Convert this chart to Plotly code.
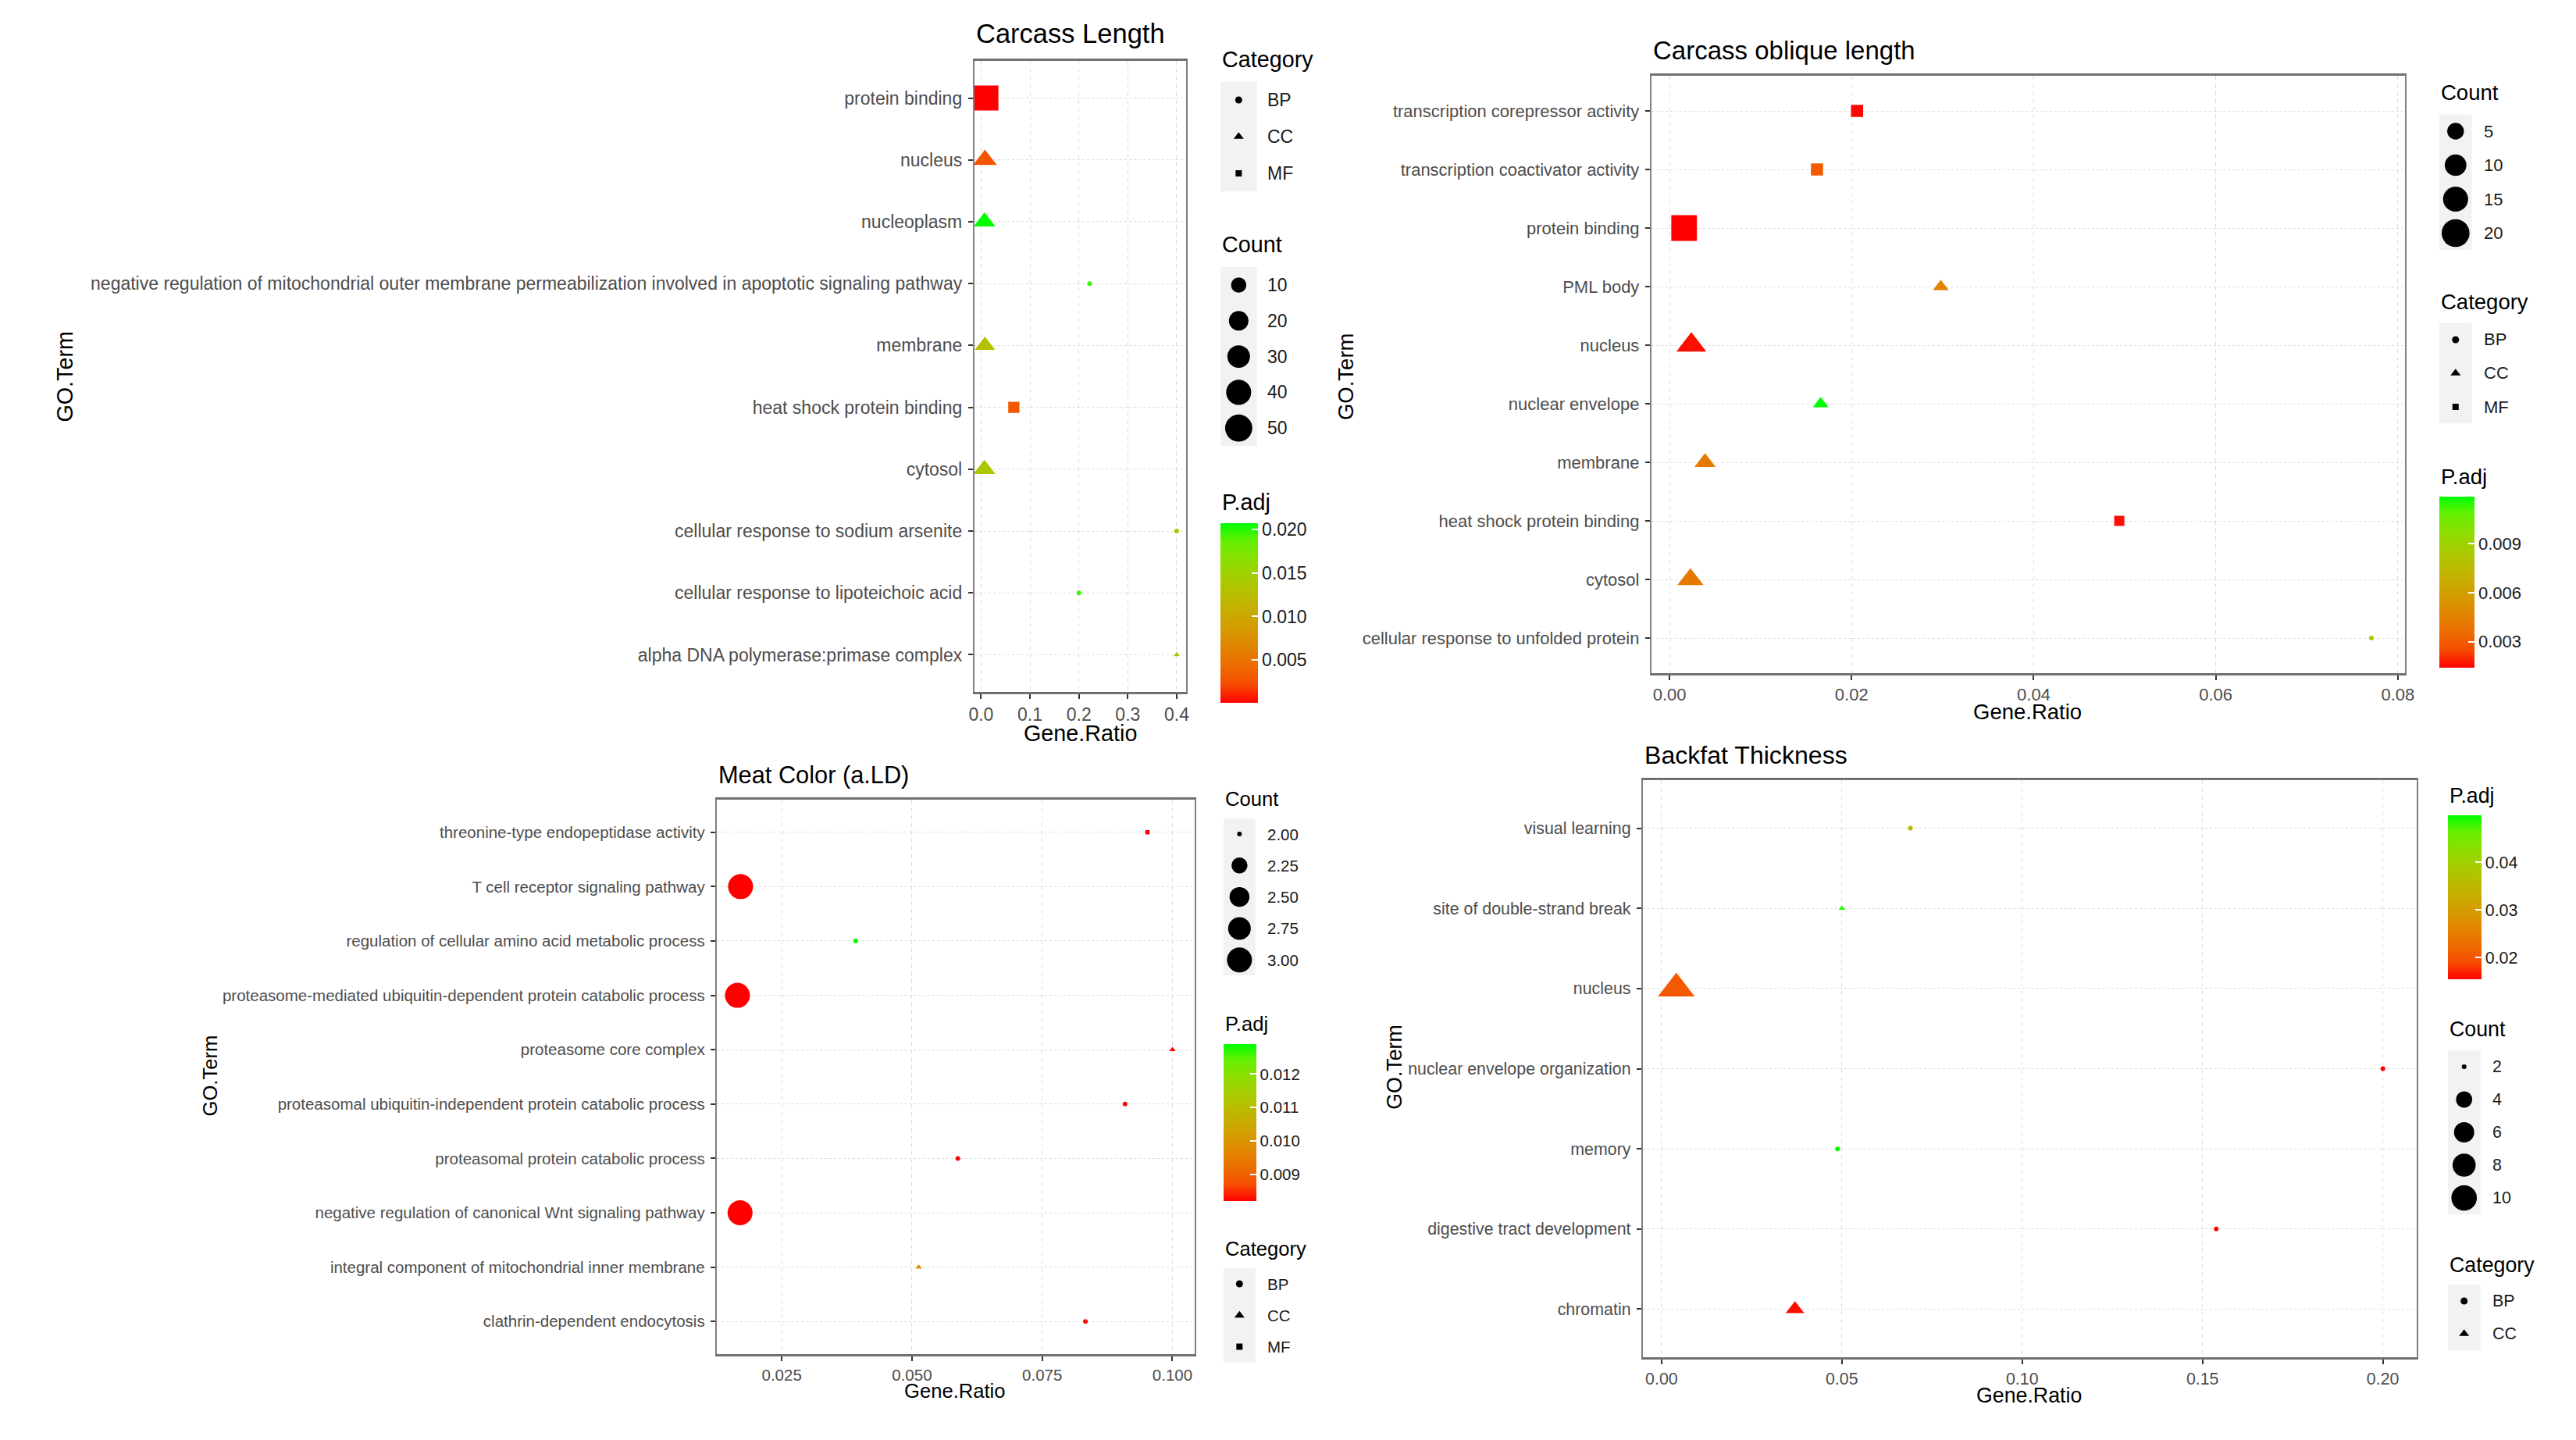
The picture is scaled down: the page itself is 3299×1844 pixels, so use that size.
import numpy as np
import plotly.graph_objects as go

# ---------------- data ----------------
# Carcass Length
p1_terms = ["protein binding", "nucleus", "nucleoplasm",
            "negative regulation of mitochondrial outer membrane permeabilization involved in apoptotic signaling pathway",
            "membrane", "heat shock protein binding", "cytosol",
            "cellular response to sodium arsenite", "cellular response to lipoteichoic acid",
            "alpha DNA polymerase:primase complex"]
p1_cat = ["MF", "CC", "CC", "BP", "CC", "MF", "CC", "BP", "BP", "CC"]
p1_ratio = [0.010, 0.008, 0.007, 0.222, 0.008, 0.067, 0.007, 0.400, 0.200, 0.400]
p1_count = [55, 14, 11, 2, 9, 6, 11, 2, 2, 2]
p1_padj = [0.0001, 0.0028, 0.0207, 0.0195, 0.0130, 0.0030, 0.0135, 0.0135, 0.0195, 0.0135]
p1_count_breaks = [10, 20, 30, 40, 50]
p1_padj_breaks = [0.005, 0.010, 0.015, 0.020]
p1_levels = ["BP", "CC", "MF"]

# Carcass oblique length
p2_terms = ["transcription corepressor activity", "transcription coactivator activity", "protein binding",
            "PML body", "nucleus", "nuclear envelope", "membrane", "heat shock protein binding",
            "cytosol", "cellular response to unfolded protein"]
p2_cat = ["MF", "MF", "MF", "CC", "CC", "CC", "CC", "MF", "CC", "BP"]
p2_ratio = [0.0206, 0.0162, 0.0016, 0.0298, 0.0024, 0.0166, 0.0039, 0.0494, 0.0023, 0.0771]
p2_count = [3, 3, 22, 2, 10, 2, 4, 2, 7, 1]
p2_padj = [0.0015, 0.0030, 0.0014, 0.0045, 0.0016, 0.0119, 0.0042, 0.0016, 0.0042, 0.0088]
p2_count_breaks = [5, 10, 15, 20]
p2_padj_breaks = [0.003, 0.006, 0.009]
p2_levels = ["BP", "CC", "MF"]

# Meat Color (a.LD)
p3_terms = ["threonine-type endopeptidase activity", "T cell receptor signaling pathway",
            "regulation of cellular amino acid metabolic process",
            "proteasome-mediated ubiquitin-dependent protein catabolic process",
            "proteasome core complex", "proteasomal ubiquitin-independent protein catabolic process",
            "proteasomal protein catabolic process", "negative regulation of canonical Wnt signaling pathway",
            "integral component of mitochondrial inner membrane", "clathrin-dependent endocytosis"]
p3_cat = ["MF", "BP", "BP", "BP", "CC", "BP", "BP", "BP", "CC", "BP"]
p3_ratio = [0.0952, 0.0171, 0.0392, 0.0165, 0.1000, 0.0909, 0.0588, 0.0170, 0.0513, 0.0833]
p3_count = [2, 3, 2, 3, 2, 2, 2, 3, 2, 2]
p3_padj = [0.0082, 0.0082, 0.0129, 0.0082, 0.0082, 0.0082, 0.0082, 0.0082, 0.0098, 0.0083]
p3_count_breaks = [2.00, 2.25, 2.50, 2.75, 3.00]
p3_padj_breaks = [0.009, 0.010, 0.011, 0.012]
p3_levels = ["BP", "CC", "MF"]

# Backfat Thickness
p4_terms = ["visual learning", "site of double-strand break", "nucleus", "nuclear envelope organization",
            "memory", "digestive tract development", "chromatin"]
p4_cat = ["BP", "CC", "CC", "BP", "BP", "BP", "CC"]
p4_ratio = [0.0690, 0.0500, 0.0041, 0.2000, 0.0488, 0.1538, 0.0370]
p4_count = [2, 2, 11, 2, 2, 2, 3]
p4_padj = [0.0360, 0.0490, 0.0205, 0.0155, 0.0498, 0.0156, 0.0160]
p4_count_breaks = [2, 4, 6, 8, 10]
p4_padj_breaks = [0.02, 0.03, 0.04]
p4_levels = ["BP", "CC"]

# ---------------- style / layout ----------------
W, H = 3299, 1844
OFF = 8  # default body margin of the html page
FONT = "Liberation Sans, Arial, Helvetica, sans-serif"
SYMBOL = {"BP": "circle", "CC": "triangle-up", "MF": "square"}
SHAPE_SCALE = {"BP": 1.0, "CC": 1.2, "MF": 0.886}
SIZE_POW = 0.42
DMIN = 6


def lab_to_hex(L, a, b):
    fy_ = (L + 16) / 116
    fx_ = fy_ + a / 500
    fz_ = fy_ - b / 200

    def finv(t):
        return t ** 3 if t ** 3 > 0.008856 else (t - 16 / 116) / 7.787
    X, Y, Z = 0.95047 * finv(fx_), finv(fy_), 1.08883 * finv(fz_)
    rgb = [3.2406 * X - 1.5372 * Y - 0.4986 * Z,
           -0.9689 * X + 1.8758 * Y + 0.0415 * Z,
           0.0557 * X - 0.2040 * Y + 1.0570 * Z]
    out = []
    for c in rgb:
        c = 12.92 * c if c <= 0.0031308 else 1.055 * c ** (1 / 2.4) - 0.055
        out.append(int(round(min(max(c, 0), 1) * 255)))
    return "#%02x%02x%02x" % tuple(out)


# red -> green gradient in Lab space
red_lab = np.array([53.24, 80.09, 67.20])
green_lab = np.array([87.73, -86.18, 83.18])
COLORSCALE = [[t, lab_to_hex(*(red_lab + (green_lab - red_lab) * t))] for t in np.linspace(0, 1, 11)]

panels = [
    dict(title="Carcass Length", terms=p1_terms, cat=p1_cat, ratio=p1_ratio, count=p1_count, padj=p1_padj,
         cbreaks=p1_count_breaks, pbreaks=p1_padj_breaks, levels=p1_levels, cfmt="{:g}", pfmt="{:.3f}",
         box=(1248, 78, 1521, 886), title_y=45, xt=(1384, 941), yt=(76, 482),
         xrange=[-0.0137, 0.4196], dtick=0.1, xfmt=".1f", fs=23, dmax=36,
         leg=dict(key_x=1565, key_w=47, label_x=1623, cb_w=48,
                  cat=(78, 128, 47), cnt=(315, 365, 45.8), pad=(645, 670, 900))),
    dict(title="Carcass oblique length", terms=p2_terms, cat=p2_cat, ratio=p2_ratio, count=p2_count, padj=p2_padj,
         cbreaks=p2_count_breaks, pbreaks=p2_padj_breaks, levels=p2_levels, cfmt="{:g}", pfmt="{:.3f}",
         box=(2120, 97, 3091, 862), title_y=67, xt=(2605, 913), yt=(1726, 482),
         xrange=[-0.0020, 0.0808], dtick=0.02, xfmt=".2f", fs=22, dmax=37,
         leg=dict(key_x=3135, key_w=42, label_x=3190, cb_w=45,
                  cnt=(121, 168, 43.5), cat=(388, 435, 43), pad=(612, 636, 855))),
    dict(title="Meat Color (a.LD)", terms=p3_terms, cat=p3_cat, ratio=p3_ratio, count=p3_count, padj=p3_padj,
         cbreaks=p3_count_breaks, pbreaks=p3_padj_breaks, levels=p3_levels, cfmt="{:.2f}", pfmt="{:.3f}",
         box=(916, 1024, 1532, 1734), title_y=995, xt=(1223, 1783), yt=(263, 1378),
         xrange=[0.0125, 0.1043], dtick=0.025, xfmt=".3f", fs=20.5, dmax=32,
         leg=dict(key_x=1569, key_w=41, label_x=1623, cb_w=42,
                  cnt=(1025, 1068, 40.3), pad=(1313, 1337, 1538), cat=(1601, 1644, 40.3))),
    dict(title="Backfat Thickness", terms=p4_terms, cat=p4_cat, ratio=p4_ratio, count=p4_count, padj=p4_padj,
         cbreaks=p4_count_breaks, pbreaks=p4_padj_breaks, levels=p4_levels, cfmt="{:g}", pfmt="{:.2f}",
         box=(2109, 999, 3106, 1738), title_y=969, xt=(2607, 1789), yt=(1789, 1366),
         xrange=[-0.0052, 0.2094], dtick=0.05, xfmt=".2f", fs=21.4, dmax=34,
         leg=dict(key_x=3146, key_w=42, label_x=3201, cb_w=43,
                  pad=(1021, 1044, 1254), cnt=(1320, 1366, 42), cat=(1622, 1666, 42))),
]

FW, FH = W - 2 * OFF, H - 2 * OFF


def fx(v):
    return (v - OFF) / FW


def fy(v):
    return 1 - (v - OFF) / FH


def sizer(cmin, cmax, dmax):
    # count -> marker diameter in px
    def f(c):
        frac = ((c - cmin) / (cmax - cmin)) ** SIZE_POW
        return DMIN + (dmax - DMIN) * frac
    return f


fig = go.Figure()
layout = dict(width=FW, height=FH, margin=dict(l=0, r=0, t=0, b=0),
              paper_bgcolor="white", plot_bgcolor="white", showlegend=False,
              font=dict(family=FONT, color="#1a1a1a"))
annotations, shapes = [], []
next_ax = 5

for i, p in enumerate(panels, start=1):
    sfx = "" if i == 1 else str(i)
    cax = "coloraxis" + sfx
    x0, y0, x1, y1 = p["box"]
    fs = p["fs"]
    n = len(p["terms"])
    size_of = sizer(min(p["count"]), max(p["count"]), p["dmax"])

    for lev in p["levels"]:
        idx = [k for k, c in enumerate(p["cat"]) if c == lev]
        if not idx:
            continue
        fig.add_trace(go.Scatter(
            x=[p["ratio"][k] for k in idx], y=[p["terms"][k] for k in idx],
            mode="markers", xaxis="x" + sfx, yaxis="y" + sfx, hoverinfo="skip",
            marker=dict(symbol=SYMBOL[lev], size=[size_of(p["count"][k]) * SHAPE_SCALE[lev] for k in idx],
                        color=[p["padj"][k] for k in idx], coloraxis=cax, line=dict(width=0), opacity=1)))

    axis_common = dict(mirror=True, showline=True,
                       ticks="outside", ticklen=6, tickwidth=1.5, tickcolor="#333333",
                       tickfont=dict(size=fs, color="#4D4D4D", family=FONT),
                       showgrid=True, gridcolor="#DCDCDC", gridwidth=1.3, zeroline=False)
    layout["xaxis" + sfx] = dict(domain=[fx(x0), fx(x1)], anchor="y" + sfx, range=p["xrange"],
                                 tick0=0, dtick=p["dtick"], tickformat=p["xfmt"], griddash="5px,5px",
                                 linecolor="#707070", linewidth=3, **axis_common)
    layout["yaxis" + sfx] = dict(domain=[fy(y1), fy(y0)], anchor="x" + sfx, type="category",
                                 categoryorder="array", categoryarray=p["terms"][::-1],
                                 range=[-0.6, n - 0.4], griddash="dot", ticklabelstandoff=3,
                                 linecolor="#808080", linewidth=2, **axis_common)

    # titles
    annotations.append(dict(text=p["title"], x=fx(x0), y=fy(p["title_y"] - 2), xref="paper", yref="paper",
                            xanchor="left", yanchor="middle", showarrow=False,
                            font=dict(size=fs * 1.5, color="black")))
    annotations.append(dict(text="Gene.Ratio", x=fx(p["xt"][0]), y=fy(p["xt"][1] - 2), xref="paper", yref="paper",
                            xanchor="center", yanchor="middle", showarrow=False,
                            font=dict(size=fs * 1.25, color="black")))
    annotations.append(dict(text="GO.Term", x=fx(p["yt"][0]), y=fy(p["yt"][1]), xref="paper", yref="paper",
                            xanchor="center", yanchor="middle", showarrow=False, textangle=-90,
                            font=dict(size=fs * 1.25, color="black")))

    leg = p["leg"]
    kx, kw, lx = leg["key_x"], leg["key_w"], leg["label_x"]

    # colour bar (P.adj)
    pt, cb_top, cb_bot = leg["pad"]
    layout[cax] = dict(cmin=min(p["padj"]), cmax=max(p["padj"]), colorscale=COLORSCALE,
                       colorbar=dict(x=fx(kx), xanchor="left", y=fy(cb_top), yanchor="top",
                                     len=cb_bot - cb_top, lenmode="pixels",
                                     thickness=leg["cb_w"], thicknessmode="pixels",
                                     xpad=0, ypad=0, outlinewidth=0,
                                     ticks="inside", ticklen=8, tickwidth=2, tickcolor="white",
                                     tickvals=p["pbreaks"], ticktext=[p["pfmt"].format(v) for v in p["pbreaks"]],
                                     tickfont=dict(size=fs, color="#1a1a1a", family=FONT)))
    annotations.append(dict(text="P.adj", x=fx(kx), y=fy(pt - 2), xref="paper", yref="paper",
                            xanchor="left", yanchor="middle", showarrow=False,
                            font=dict(size=fs * 1.25, color="black")))

    # discrete legends: Count and Category
    blocks = [("Count", leg["cnt"], [p["cfmt"].format(v) for v in p["cbreaks"]],
               ["circle"] * len(p["cbreaks"]), [size_of(v) for v in p["cbreaks"]]),
              ("Category", leg["cat"], p["levels"],
               [SYMBOL[v] for v in p["levels"]], [9 * SHAPE_SCALE[v] * (1.05 if v == "CC" else 1) for v in p["levels"]])]
    for name, (tt, first, sp), labels, symbols, sizes in blocks:
        k = next_ax
        next_ax += 1
        m = len(labels)
        top = first - sp / 2
        bot = first + (m - 1) * sp + sp / 2
        layout["xaxis%d" % k] = dict(domain=[fx(kx), fx(kx + 3 * kw)], range=[-0.5, 2.5],
                                     visible=False, fixedrange=True, anchor="y%d" % k)
        layout["yaxis%d" % k] = dict(domain=[fy(bot), fy(top)], range=[m - 0.5, -0.5],
                                     visible=False, fixedrange=True, anchor="x%d" % k)
        shapes.append(dict(type="rect", xref="x%d" % k, yref="y%d" % k, x0=-0.5, x1=0.5, y0=-0.5, y1=m - 0.5,
                           fillcolor="#F2F2F2", line=dict(width=0), layer="below"))
        fig.add_trace(go.Scatter(x=[0] * m, y=list(range(m)), mode="markers",
                                 xaxis="x%d" % k, yaxis="y%d" % k, hoverinfo="skip",
                                 marker=dict(symbol=symbols, size=sizes, color="#000000", opacity=1,
                                             line=dict(width=0))))
        for j, lab in enumerate(labels):
            annotations.append(dict(text=lab, x=(lx - (kx + kw / 2)) / kw, y=j, xref="x%d" % k, yref="y%d" % k,
                                    xanchor="left", yanchor="middle", showarrow=False,
                                    font=dict(size=fs, color="#1a1a1a")))
        annotations.append(dict(text=name, x=fx(kx), y=fy(tt - 2), xref="paper", yref="paper",
                                xanchor="left", yanchor="middle", showarrow=False,
                                font=dict(size=fs * 1.25, color="black")))

layout["annotations"] = annotations
layout["shapes"] = shapes
fig.update_layout(**layout)
fig.write_html("out.html")
